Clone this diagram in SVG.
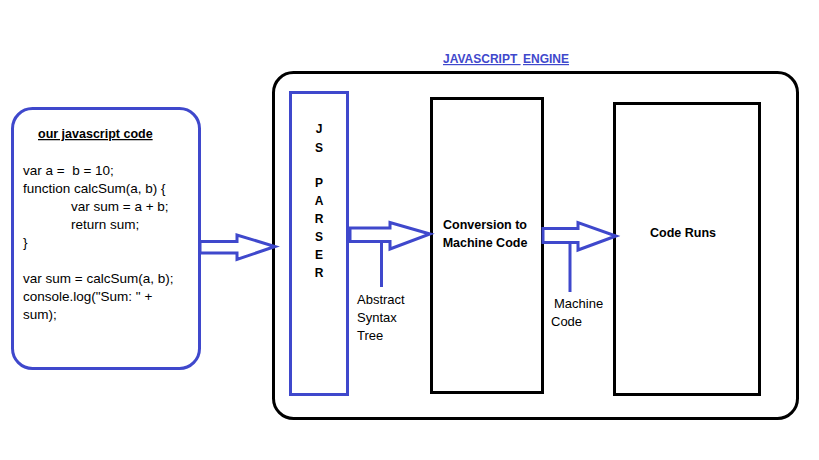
<svg xmlns="http://www.w3.org/2000/svg" width="819" height="460" viewBox="0 0 819 460">
<style>
.blue{fill:none;stroke:#3F48CC;stroke-width:3}
.blk{fill:none;stroke:#000;stroke-width:3}
.arr{fill:#fff;stroke:#3F48CC;stroke-width:3;stroke-linejoin:miter}
.t{font-family:"Liberation Sans",Arial,sans-serif;font-size:12.5px;fill:#000;white-space:pre}
.c{font-size:13.5px}
.l{font-size:13px}
.b{font-weight:bold}
.ttl{fill:#3F48CC;font-size:12px;text-decoration:underline}
</style>
<rect width="819" height="460" fill="#fff"/>
<g id="title">
<text class="t b ttl" x="443" y="63" xml:space="preserve">JAVASCRIPT </text>
<text class="t b ttl" x="523" y="63">ENGINE</text>
</g>
<g id="engine">
<rect class="blk" x="273.5" y="72.5" width="524" height="346" rx="20"/>
</g>
<g id="source">
<rect class="blue" x="12.5" y="108.5" width="187" height="260" rx="20"/>
<text class="t b" x="38" y="138" style="text-decoration:underline">our javascript code</text>
<text class="t c" x="23" y="175" xml:space="preserve">var a =  b = 10;</text>
<text class="t c" x="23" y="193">function calcSum(a, b) {</text>
<text class="t c" x="71" y="211">var sum = a + b;</text>
<text class="t c" x="71" y="229">return sum;</text>
<text class="t c" x="23" y="247">}</text>
<text class="t c" x="23" y="283">var sum = calcSum(a, b);</text>
<text class="t c" x="23" y="301">console.log("Sum: " +</text>
<text class="t c" x="23" y="319">sum);</text>
</g>
<g id="parser">
<rect class="blue" x="290.5" y="92.5" width="57" height="302"/>
<g class="t b" text-anchor="middle" style="font-size:12px">
<text x="319" y="133">J</text>
<text x="319" y="152">S</text>
<text x="319" y="187">P</text>
<text x="319" y="205">A</text>
<text x="319" y="223">R</text>
<text x="319" y="241">S</text>
<text x="319" y="259">E</text>
<text x="319" y="277">R</text>
</g>
</g>
<g id="conversion">
<rect class="blk" x="431.5" y="98.5" width="111" height="294"/>
<text class="t b" x="485" y="229" text-anchor="middle">Conversion to</text>
<text class="t b" x="485" y="247" text-anchor="middle">Machine Code</text>
</g>
<g id="runs">
<rect class="blk" x="614.5" y="103.5" width="145" height="291"/>
<text class="t b" x="683" y="237" text-anchor="middle">Code Runs</text>
</g>
<g id="connectors">
<polygon class="arr" points="200,241.5 237,241.5 237,235 275,246.5 237,259.5 237,253 200,253"/>
<polygon class="arr" points="350,228 390,228 390,222.5 430,234 390,249 390,241.5 350,241.5"/>
<line x1="381.5" y1="241.5" x2="381.5" y2="287" stroke="#3F48CC" stroke-width="3"/>
<polygon class="arr" points="543,228.5 578,228.5 578,222.5 616,236 578,250 578,242.5 543,242.5"/>
<line x1="570" y1="242.5" x2="570" y2="292" stroke="#3F48CC" stroke-width="3"/>
<text class="t l" x="357" y="304">Abstract</text>
<text class="t l" x="357" y="322">Syntax</text>
<text class="t l" x="357" y="340">Tree</text>
<text class="t l" x="554" y="308">Machine</text>
<text class="t l" x="551" y="326">Code</text>
</g>
</svg>
